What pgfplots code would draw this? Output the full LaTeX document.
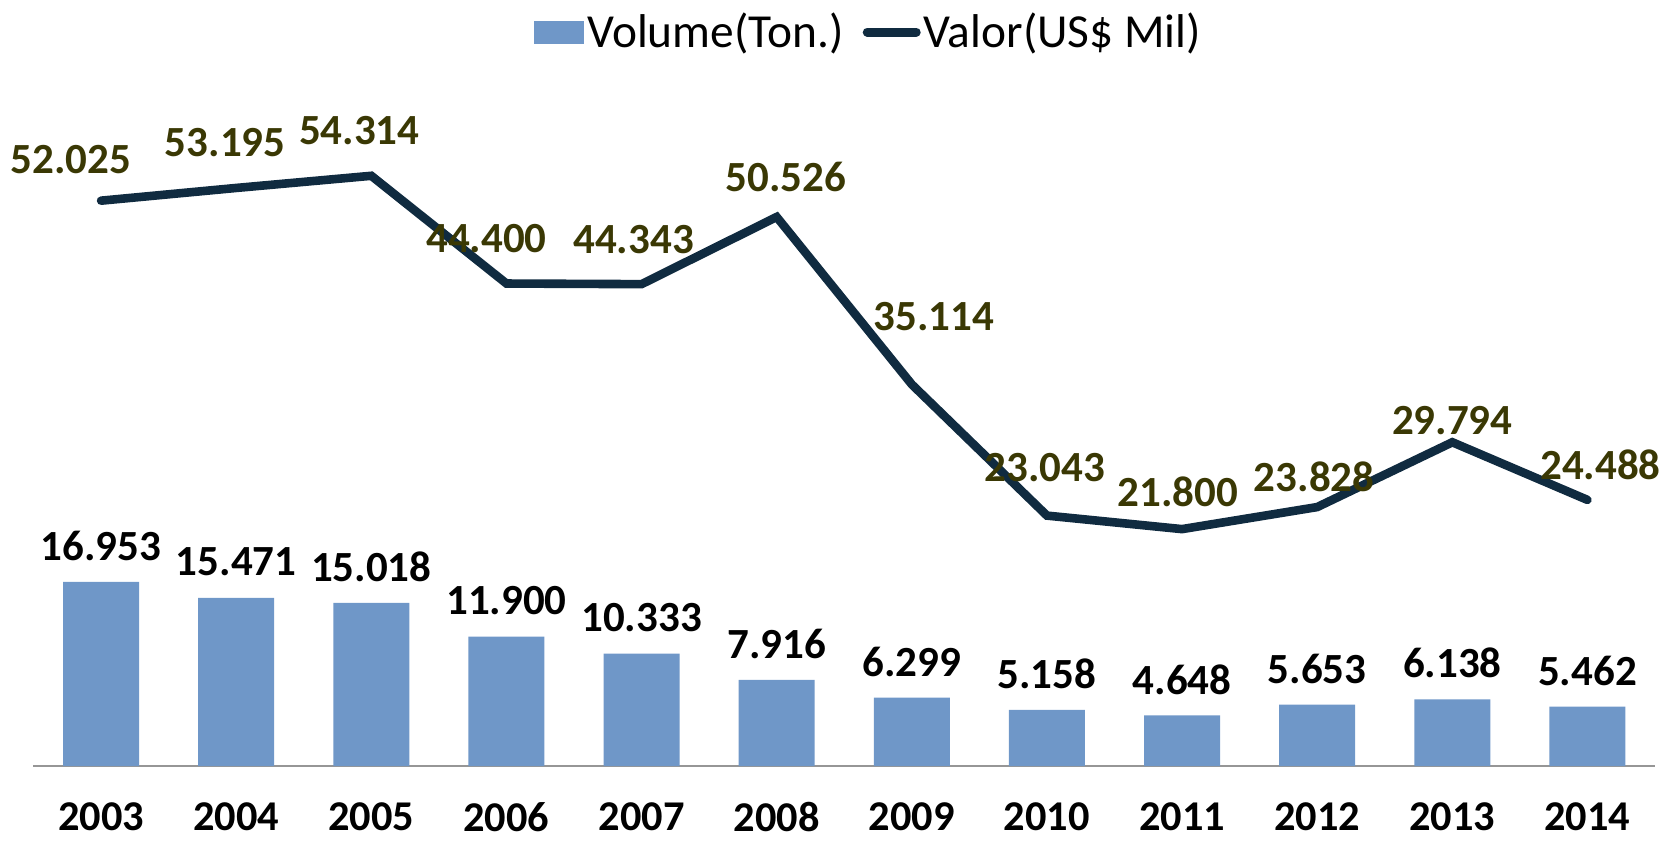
\documentclass[border=0pt]{standalone}
\usepackage{pgfplots}
\pgfplotsset{compat=1.18}
\usepackage{pgfplotstable}
\usepackage{fontspec}
\setmainfont{Carlito}
\definecolor{barblue}{RGB}{111,151,200}
\definecolor{linenavy}{RGB}{16,43,64}
\definecolor{labolive}{RGB}{58,56,4}
\definecolor{axisgray}{RGB}{150,150,150}

\pgfplotstableread{
x y label
0 16.953 16.953
1 15.471 15.471
2 15.018 15.018
3 11.900 11.900
4 10.333 10.333
5 7.916 7.916
6 6.299 6.299
7 5.158 5.158
8 4.648 4.648
9 5.653 5.653
10 6.138 6.138
11 5.462 5.462
}\volume

\pgfplotstableread{
x y dx dy label
0 52.025 -15 20.5 52.025
1 53.195 -5.5 22.5 53.195
2 54.314 -6 22.5 54.314
3 44.400 -10 22.5 44.400
4 44.343 -4 22.5 44.343
5 50.526 4.5 20 50.526
6 35.114 11 34 35.114
7 23.043 -1 24 23.043
8 21.800 -2 18.5 21.800
9 23.828 -1.5 15 23.828
10 29.794 0 11 29.794
11 24.488 6.5 17.5 24.488
}\valor

\begin{document}
\begin{tikzpicture}
\path[use as bounding box] (-16.75pt,-37pt) rectangle (814.75pt,383pt);
\begin{axis}[
  scale only axis,
  width=810.75pt, height=326pt,
  xmin=-0.5, xmax=11.5, ymin=0, ymax=60,
  clip=false,
  axis x line*=bottom,
  axis y line=none,
  x axis line style={draw=axisgray, line width=1pt},
  xtick={0,...,11},
  xticklabels={2003,2004,2005,2006,2007,2008,2009,2010,2011,2012,2013,2014},
  xtick style={draw=none},
  xticklabel style={anchor=center, inner sep=0pt, yshift=-25.5pt, font=\fontsize{21.2}{24}\selectfont\bfseries},
  legend columns=2,
  legend style={draw=none, fill=none, at={(0.5153,1)}, anchor=center, yshift=41pt,
    font=\fontsize{23.7}{27}\selectfont, inner sep=0pt,
    /tikz/every even column/.append style={column sep=8pt},
    nodes={inner xsep=1.5pt, inner ysep=2pt}},
]
\addplot[ybar, bar width=38pt, fill=barblue, draw=none,
  point meta=explicit symbolic,
  nodes near coords={\pgfplotspointmeta},
  every node near coord/.append style={anchor=center, yshift=18pt, text=black,
     font=\fontsize{21.5}{24}\selectfont\bfseries},
  legend image code/.code={\fill[barblue] (0pt,-5.75pt) rectangle (25pt,5.75pt);}
] table[x=x, y=y, meta=label] {\volume};
\addlegendentry{Volume(Ton.)}

\addplot[color=linenavy, line width=4.3pt, line cap=round, line join=miter, mark=none,
  point meta=explicit symbolic,
  visualization depends on={\thisrow{dx} \as \dxv},
  visualization depends on={\thisrow{dy} \as \dyv},
  nodes near coords={\pgfplotspointmeta},
  every node near coord/.append style={anchor=center, xshift=\dxv pt, yshift=\dyv pt,
     text=labolive, font=\fontsize{21.5}{24}\selectfont\bfseries},
  legend image code/.code={\draw[linenavy, line width=4.5pt, line cap=round] (2.25pt,0pt) -- (26.75pt,0pt);}
] table[x=x, y=y, meta=label] {\valor};
\addlegendentry{Valor(US\$ Mil)}
\end{axis}
\end{tikzpicture}
\end{document}
